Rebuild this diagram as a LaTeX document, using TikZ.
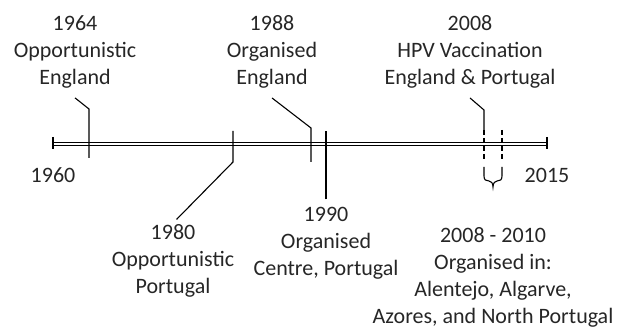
\documentclass[tikz,border=0pt]{standalone}
\usepackage{fontspec}
\setmainfont{Carlito}
\begin{document}
\begin{tikzpicture}[x=1pt,y=-1pt,line width=1.1pt,
  every node/.style={align=center,inner sep=1pt,text=black!85,
    font=\fontsize{22}{27}\selectfont},
  dashtick/.style={dash pattern=on 5pt off 3pt}]
  \useasboundingbox (0,0) rectangle (620,328);
  % timeline
  \coordinate (start) at (53,144);
  \coordinate (end) at (547,144);
  \draw[double,double distance=2.2pt] (start) -- (end);
  \draw (start) ++(0,-7) -- ++(0,12)
    (end) ++(0,-7) -- ++(0,12);
  \node (y1960) at (53,175) {1960};
  \node (y2015) at (547,175) {2015};
  % events above the line
  \node (n1964) at (75,52) {1964\\Opportunistic\\England};
  \node (n1988) at (272,52) {1988\\Organised\\England};
  \node (n2008) at (470,52) {2008\\HPV Vaccination\\England \& Portugal};
  \coordinate (b1964) at (89,109);
  \coordinate (b1988) at (311,128);
  \coordinate (b2008) at (484,110);
  \draw (n1964.south) ++(0,8) -- (b1964) -- (89,158);
  \draw (n1988.south) ++(0,8) -- (b1988) -- (311,162);
  \draw (n2008.south) ++(0,8) -- (b2008) -- (484,130);
  \draw[dashtick] (484,130) -- (484,160);
  \draw[dashtick] (502,130) -- (502,160);
  % events below the line
  \node (n1980) at (173,261) {1980\\Opportunistic\\Portugal};
  \node (n1990) at (326,243) {1990\\Organised\\Centre, Portugal};
  \node (n2010) at (493,277) {2008 - 2010\\Organised in:\\Alentejo, Algarve,\\Azores, and North Portugal};
  \coordinate (b1980) at (233,162);
  \draw[shorten <=5pt] (n1980.north) -- (b1980) -- (233,131);
  \draw[shorten <=6pt] (n1990.north) -- (326,131);
  % brace under 2008 - 2010
  \coordinate (bl) at (484,167);
  \coordinate (br) at (502,167);
  \coordinate (tip) at (493,187);
  \draw (bl) -- ++(0,9) .. controls ++(0,4) and ++(-3,0) .. (489,181)
    .. controls ++(2,0) and ++(0,-4) .. (tip)
    .. controls ++(0,-4) and ++(-2,0) .. (497,181)
    .. controls ++(3,0) and ++(0,4) .. (502,176) -- (br);
\end{tikzpicture}
\end{document}
